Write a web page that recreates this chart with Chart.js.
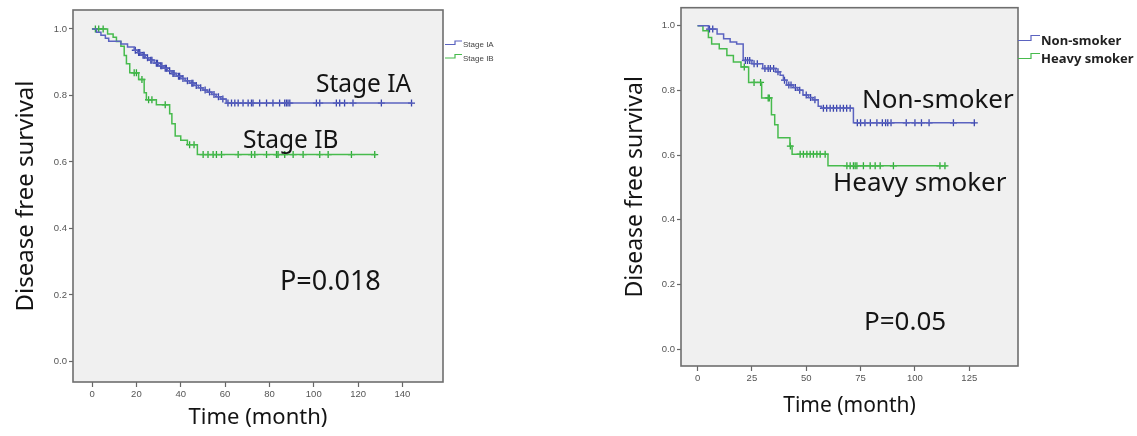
<!DOCTYPE html>
<html>
<head>
<meta charset="utf-8">
<script src="https://cdn.jsdelivr.net/npm/chart.js@4.4.1/dist/chart.umd.min.js"></script>
<style>
  html, body { margin: 0; padding: 0; background: #fff; }
  body { width: 1137px; height: 436px; position: relative; overflow: hidden; }
  canvas { position: absolute; top: 0; }
</style>
</head>
<body>
<canvas id="stageChart" width="560" height="436" style="left:0"></canvas>
<canvas id="smokeChart" width="557" height="436" style="left:580px"></canvas>
<script>
// tick labels
const yTicks = [0, 0.2, 0.4, 0.6, 0.8, 1.0];
const stageXTicks = [0, 20, 40, 60, 80, 100, 120, 140];
const smokeXTicks = [0, 25, 50, 75, 100, 125];

// Stage IA: event times (months) and survival after each event, then censored times
const iaTimes = [0, 2, 4, 6, 7.5, 13, 16, 19, 20.5, 22, 24, 25.5, 28, 30, 32, 34, 36, 38, 40, 42, 44, 46, 48, 50, 52, 54, 56, 58, 60.5, 144.4];
const iaSurv = [1, 0.99, 0.981, 0.972, 0.963, 0.955, 0.946, 0.936, 0.929, 0.921, 0.913, 0.906, 0.897, 0.889, 0.882, 0.874, 0.866, 0.858, 0.851, 0.844, 0.837, 0.83, 0.823, 0.816, 0.81, 0.803, 0.796, 0.789, 0.777, 0.777];
const iaCensor = [19.5, 21, 21.5, 23, 23.5, 25, 26.5, 27, 29, 29.5, 31, 31.5, 33, 33.5, 35, 36.5, 37, 39, 39.5, 41, 43, 45, 45.5, 47, 49, 51, 53, 55, 57, 59,
  61.3, 62.9, 64.4, 65.9, 68.1, 70.4, 71.9, 72.6, 75.6, 78.7, 81.6, 84.6, 86.9, 87.7, 88.4, 89.2, 101.2, 102.7, 110.2, 111.7, 113.9, 117.7, 130.5, 144.1];

// Stage IB
const ibTimes = [0, 7, 9.5, 11, 13, 14.5, 15.5, 17, 21, 23.5, 24.5, 29, 35, 36, 37.5, 40, 43, 47.5, 128.3];
const ibSurv = [1, 0.985, 0.975, 0.962, 0.948, 0.92, 0.895, 0.868, 0.848, 0.808, 0.787, 0.772, 0.745, 0.715, 0.678, 0.665, 0.652, 0.622, 0.622];
const ibCensor = [1.5, 3, 5, 19, 20, 22.5, 25.5, 27, 33, 44, 46, 50.1, 52.3, 54.6, 56.1, 58.4, 65.9, 71.9, 73.4, 78.7, 83.2, 83.9, 86.9, 90.7, 95.2, 102.7, 106.5, 117, 127.5];

// Non-smoker
const nsTimes = [0, 5, 9, 12, 15, 18, 21, 25, 30, 36, 38, 39.5, 41, 44, 46, 48.5, 51, 53, 55.5, 57, 71.7, 127.3];
const nsSurv = [1, 0.99, 0.975, 0.96, 0.95, 0.944, 0.893, 0.883, 0.868, 0.858, 0.847, 0.832, 0.817, 0.809, 0.801, 0.786, 0.778, 0.771, 0.751, 0.745, 0.70, 0.70];
const nsCensor = [5.5, 7, 22, 23, 24, 26, 27.5, 31, 32.5, 33.5, 35, 37, 40, 42, 43, 45, 47, 50, 52, 54,
  57.9, 59.4, 61, 62.5, 64, 65.6, 67.1, 68.6, 70.2, 73.5, 75, 77, 79.5, 82.5, 85, 86.5, 87.5, 89, 96, 100, 103, 106.5, 117.7, 127.3];

// Heavy smoker
const hsTimes = [0, 2.5, 5, 6.5, 10, 13.5, 16.5, 20, 23.5, 29.5, 34, 35.5, 37, 42.5, 43.5, 60, 114.6];
const hsSurv = [1, 0.985, 0.964, 0.944, 0.929, 0.908, 0.888, 0.873, 0.825, 0.777, 0.725, 0.694, 0.654, 0.628, 0.603, 0.567, 0.567];
const hsCensor = [21.5, 26, 29, 32.5, 33, 42.7, 47.2, 48.7, 50.3, 51.8, 53.3, 54.9, 56.4, 58.7,
  68.7, 70.2, 71.7, 72.5, 73.3, 76.3, 79.4, 81.7, 84, 90.1, 111.5, 113.8];

const BLUE = '#5b63c0', BLUE_MARK = '#3a45ad';
const GREEN = '#47bb4d', GREEN_MARK = '#2daa38';

// survival level of a KM curve at time t
function survAt(times, surv, t) {
  let s = surv[0];
  for (let i = 0; i < times.length; i++) if (times[i] <= t) s = surv[i];
  return s;
}

function kmDatasets(s) {
  return [
    {
      data: s.times.map((t, i) => ({ x: t, y: s.surv[i] })),
      showLine: true, stepped: true, pointRadius: 0,
      borderColor: s.color, borderWidth: 1.5
    },
    {
      data: s.censor.map(t => ({ x: t, y: survAt(s.times, s.surv, t) })),
      showLine: false, pointStyle: 'cross', pointRadius: 3.5,
      borderColor: s.mark, borderWidth: 1.3
    }
  ];
}

const panelPlugin = {
  id: 'panel',
  beforeDatasetsDraw(chart) {
    const { ctx, chartArea: a } = chart;
    ctx.save();
    ctx.fillStyle = '#f0f0f0';
    ctx.fillRect(a.left, a.top, a.right - a.left, a.bottom - a.top);
    ctx.restore();
  },
  afterDraw(chart, args, o) {
    const { ctx, chartArea: a } = chart;
    ctx.save();
    ctx.strokeStyle = '#6e6e6e';
    ctx.lineWidth = 1.6;
    ctx.strokeRect(a.left, a.top, a.right - a.left, a.bottom - a.top);

    // curve labels and p-value
    ctx.fillStyle = '#141414';
    ctx.textBaseline = 'alphabetic';
    o.notes.forEach(n => {
      ctx.font = `${n.size}px "Noto Sans"`;
      ctx.fillText(n.text, n.x, n.y);
    });

    // legend with step-shaped swatches
    const lg = o.legend;
    ctx.font = lg.font;
    lg.items.forEach((it, i) => {
      const y = lg.y + i * lg.gap;
      ctx.strokeStyle = it.color;
      ctx.lineWidth = 1.2;
      ctx.beginPath();
      ctx.moveTo(lg.x0, y);
      ctx.lineTo(lg.x1, y);
      ctx.lineTo(lg.x1, y - lg.rise);
      ctx.lineTo(lg.x2, y - lg.rise);
      ctx.stroke();
      ctx.fillStyle = lg.color;
      ctx.fillText(it.label, lg.x2 + 1, y + lg.textDy);
    });
    ctx.restore();
  }
};

function kmChart(id, p) {
  const canvas = document.getElementById(id);
  const W = canvas.width, H = canvas.height;
  const tickFont = { family: 'Liberation Sans', size: 9.5 };
  return new Chart(canvas, {
    type: 'scatter',
    data: { datasets: p.series.flatMap(kmDatasets) },
    options: {
      responsive: false,
      animation: false,
      layout: { padding: { left: 0, top: p.area.top, right: W - p.area.right, bottom: 0 } },
      plugins: {
        legend: { display: false },
        tooltip: { enabled: false },
        panel: { notes: p.notes, legend: p.legend }
      },
      scales: {
        x: {
          type: 'linear', min: p.xMin, max: p.xMax,
          afterBuildTicks: s => { s.ticks = p.xTicks.map(v => ({ value: v })); },
          afterFit: s => { s.height = H - p.area.bottom; },
          border: { display: false },
          grid: { drawOnChartArea: false, drawTicks: true, tickLength: 5, tickColor: '#666', tickWidth: 1.2 },
          ticks: { font: tickFont, color: '#555', padding: 2, maxRotation: 0, autoSkip: false },
          title: {
            display: true, text: 'Time (month)', color: '#141414',
            font: { family: 'Noto Sans', size: p.xTitle.size },
            padding: { top: 0, bottom: p.xTitle.pad }
          }
        },
        y: {
          min: p.yMin, max: p.yMax,
          afterBuildTicks: s => { s.ticks = yTicks.map(v => ({ value: v })); },
          afterFit: s => { s.width = p.area.left; },
          border: { display: false },
          grid: { drawOnChartArea: false, drawTicks: true, tickLength: 4, tickColor: '#666', tickWidth: 1.2 },
          ticks: { font: tickFont, color: '#555', padding: 2, callback: v => v.toFixed(1) },
          title: {
            display: true, text: 'Disease free survival', color: '#141414',
            font: { family: 'Noto Sans', size: p.yTitle.size },
            padding: { top: p.yTitle.pad, bottom: 0 }
          }
        }
      }
    },
    plugins: [panelPlugin]
  });
}

kmChart('stageChart', {
  series: [
    { times: iaTimes, surv: iaSurv, censor: iaCensor, color: BLUE, mark: BLUE_MARK },
    { times: ibTimes, surv: ibSurv, censor: ibCensor, color: GREEN, mark: GREEN_MARK }
  ],
  xTicks: stageXTicks, xMin: -8.6, xMax: 158.3, yMin: -0.062, yMax: 1.057,
  area: { left: 73, top: 10, right: 443, bottom: 382 },
  yTitle: { size: 24, pad: 12 },
  xTitle: { size: 22, pad: 5 },
  notes: [
    { text: 'Stage IA', x: 316, y: 92, size: 24.5 },
    { text: 'Stage IB', x: 243, y: 148, size: 24.5 },
    { text: 'P=0.018', x: 280, y: 290, size: 27 }
  ],
  legend: {
    x0: 445, x1: 455, x2: 462, y: 44.5, gap: 13.5, rise: 3.5, textDy: 2.5,
    font: '8px "Liberation Sans"', color: '#444',
    items: [{ label: 'Stage IA', color: BLUE }, { label: 'Stage IB', color: GREEN }]
  }
});

kmChart('smokeChart', {
  series: [
    { times: nsTimes, surv: nsSurv, censor: nsCensor, color: BLUE, mark: BLUE_MARK },
    { times: hsTimes, surv: hsSurv, censor: hsCensor, color: GREEN, mark: GREEN_MARK }
  ],
  xTicks: smokeXTicks, xMin: -7.6, xMax: 147.4, yMin: -0.052, yMax: 1.056,
  area: { left: 101, top: 3, right: 438, bottom: 366 },
  yTitle: { size: 23, pad: 42 },
  xTitle: { size: 21, pad: 17 },
  notes: [
    { text: 'Non-smoker', x: 282, y: 107.5, size: 26 },
    { text: 'Heavy smoker', x: 253, y: 191, size: 26 },
    { text: 'P=0.05', x: 284, y: 330, size: 26 }
  ],
  legend: {
    x0: 438, x1: 451, x2: 460, y: 40.5, gap: 18, rise: 5, textDy: 4.5,
    font: 'bold 13px "Noto Sans"', color: '#222',
    items: [{ label: 'Non-smoker', color: BLUE }, { label: 'Heavy smoker', color: GREEN }]
  }
});
</script>
</body>
</html>
